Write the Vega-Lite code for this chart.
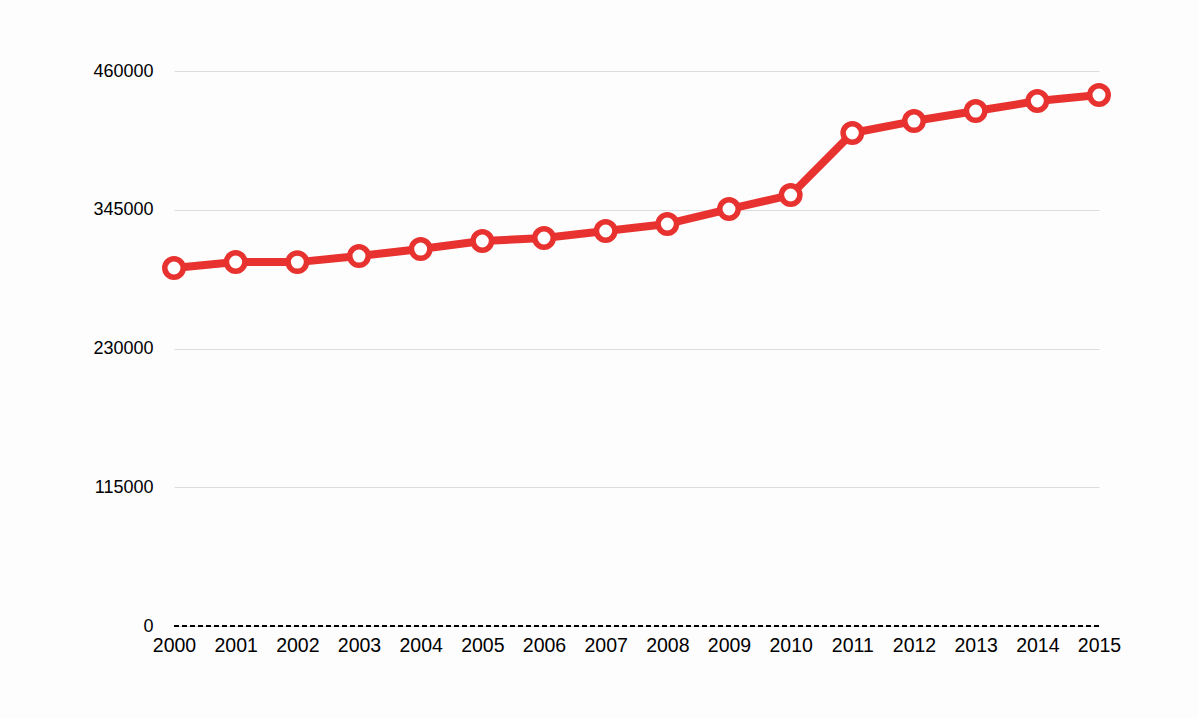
{
  "$schema": "https://vega.github.io/schema/vega-lite/v6.json",
  "autosize": {"type": "none"},
  "width": 925,
  "height": 555,
  "padding": {"left": 174, "top": 71, "right": 99, "bottom": 92},
  "background": "#fdfdfd",
  "config": {
    "view": {"stroke": null},
    "font": "Liberation Sans"
  },
  "data": {
    "values": [
      {"year": 2000, "value": 296700},
      {"year": 2001, "value": 301700},
      {"year": 2002, "value": 301600},
      {"year": 2003, "value": 306600},
      {"year": 2004, "value": 312400},
      {"year": 2005, "value": 319100},
      {"year": 2006, "value": 321600},
      {"year": 2007, "value": 327400},
      {"year": 2008, "value": 333200},
      {"year": 2009, "value": 345600},
      {"year": 2010, "value": 357200},
      {"year": 2011, "value": 408600},
      {"year": 2012, "value": 418500},
      {"year": 2013, "value": 426800},
      {"year": 2014, "value": 435100},
      {"year": 2015, "value": 440100}
    ]
  },
  "layer": [
    {
      "mark": {"type": "rule", "color": "#000000", "strokeDash": [5, 3], "strokeWidth": 1.2},
      "encoding": {
        "y": {"datum": 0, "type": "quantitative", "scale": {"domain": [0, 460000]}}
      }
    },
    {
      "mark": {"type": "line", "color": "#e8322f", "strokeWidth": 8, "strokeJoin": "round"},
      "encoding": {
        "x": {
          "field": "year", "type": "quantitative",
          "scale": {"domain": [2000, 2015], "nice": false, "zero": false},
          "axis": {
            "title": null, "values": [2000,2001,2002,2003,2004,2005,2006,2007,2008,2009,2010,2011,2012,2013,2014,2015],
            "format": "d", "domain": false, "ticks": false, "grid": false,
            "labelFlush": false, "labelBound": false, "labelOverlap": false,
            "labelFontSize": 19.5, "labelColor": "#000000", "labelPadding": 10, "labelFont": "Liberation Sans"
          }
        },
        "y": {
          "field": "value", "type": "quantitative",
          "scale": {"domain": [0, 460000], "nice": false},
          "axis": {
            "title": null, "values": [0, 115000, 230000, 345000, 460000],
            "format": "d", "domain": false, "ticks": false,
            "grid": true, "gridColor": "#dddddd", "gridWidth": 1,
            "labelFlush": false, "labelBound": false, "labelOverlap": false,
            "labelFontSize": 18, "labelColor": "#000000", "labelPadding": 21, "labelFont": "Liberation Sans"
          }
        }
      }
    },
    {
      "mark": {"type": "point", "shape": "circle", "filled": true, "fill": "#ffffff", "stroke": "#e8322f", "strokeWidth": 5.5, "size": 340, "opacity": 1},
      "encoding": {
        "x": {"field": "year", "type": "quantitative"},
        "y": {"field": "value", "type": "quantitative"}
      }
    }
  ]
}
